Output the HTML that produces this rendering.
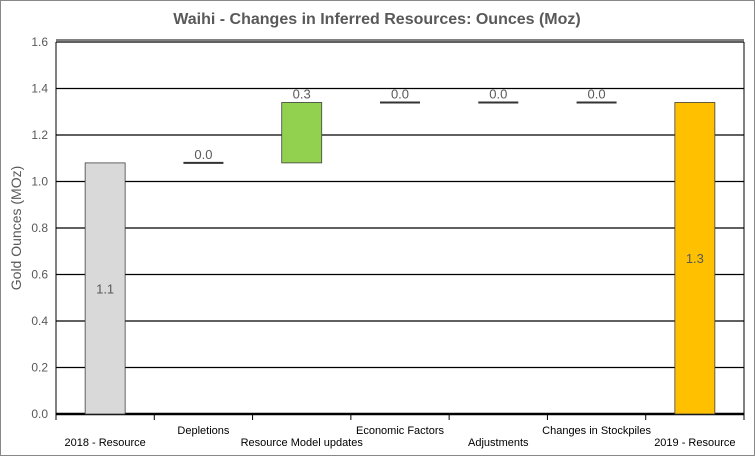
<!DOCTYPE html>
<html><head><meta charset="utf-8"><style>
body{margin:0;background:#fff}
svg{display:block;font-family:"Liberation Sans",Arial,sans-serif}
</style></head><body>
<svg id="c" width="755" height="456">
<rect x="0.5" y="0.5" width="754" height="455" fill="#fff" stroke="#888"/>
<text x="377" y="24" text-anchor="middle" font-size="16" font-weight="bold" fill="#595959">Waihi - Changes in Inferred Resources: Ounces (Moz)</text>
<text transform="translate(21,228) rotate(-90)" text-anchor="middle" font-size="14" fill="#595959">Gold Ounces (MOz)</text>
<g id="grid"></g><g id="bars"></g><g id="xl"></g>
</svg>
<script>
const categories=["2018 - Resource","Depletions","Resource Model updates","Economic Factors","Adjustments","Changes in Stockpiles","2019 - Resource"];
const deltas=[1.08,0.0,0.26,0.0,0.0,0.0,1.34];
const labels=["1.1","0.0","0.3","0.0","0.0","0.0","1.3"];
const kinds=["total","delta","delta","delta","delta","delta","total"];
const yTicks=[0,0.2,0.4,0.6,0.8,1.0,1.2,1.4,1.6];
const L=56,R=744,T=42,B=414,ymax=1.6;
const y=v=>B-(v/ymax)*(B-T);
const bw=(R-L)/categories.length;
const xc=i=>L+bw*(i+0.5);
const NS="http://www.w3.org/2000/svg";
function mk(tag,at,parent){const e=document.createElementNS(NS,tag);for(const k in at)e.setAttribute(k,at[k]);parent.appendChild(e);return e;}
const g=document.getElementById('grid'),gb=document.getElementById('bars'),gx=document.getElementById('xl');
yTicks.forEach(t=>{
 const ln=mk('line',{x1:L,x2:R,y1:y(t),y2:y(t),stroke:'#000','stroke-width':t===0?2.5:1.2},g);
 
 
 const tx=mk('text',{x:L-8,y:y(t)+4,'text-anchor':'end','font-size':12,fill:'#595959'},g);
 tx.textContent=t.toFixed(1);
 
 
});
mk('line',{x1:L,x2:L,y1:T,y2:B,stroke:'#000','stroke-width':1},g);
mk('line',{x1:R,x2:R,y1:T,y2:B,stroke:'#000','stroke-width':1},g);
mk('line',{x1:L,x2:R,y1:T-2,y2:T-2,stroke:'#000','stroke-width':1},g);
for(let i=0;i<=categories.length;i++){const tk=mk('line',{x1:L+bw*i,x2:L+bw*i,y1:B,y2:B+6,stroke:'#000'},g);
 
 }
let run=0;
categories.forEach((c,i)=>{
 const cx=xc(i),w=40;
 if(kinds[i]==='total'){
  run=deltas[i];
  const r=mk('rect',{x:cx-w/2,y:y(run),width:w,height:B-y(run),fill:i===0?'#d9d9d9':'#ffc000',stroke:'#404040','stroke-width':0.8},gb);
  
  
  const t=mk('text',{x:cx,y:(y(run)+B)/2+5,'text-anchor':'middle','font-size':13,fill:'#595959'},gb);
  t.textContent=labels[i];
  
  
 }else{
  const top=run+deltas[i];
  let topY;
  if(Math.abs(deltas[i])<0.005){
   const ln=mk('line',{x1:cx-w/2,x2:cx+w/2,y1:y(run),y2:y(run),stroke:'#333','stroke-width':2},gb);
   
   
   topY=y(run);
  }else{
   const r=mk('rect',{x:cx-w/2,y:y(Math.max(run,top)),width:w,height:Math.abs(y(run)-y(top)),fill:'#92d050',stroke:'#404040','stroke-width':0.8},gb);
   
   
   topY=y(Math.max(run,top));
  }
  const t=mk('text',{x:cx,y:topY-4,'text-anchor':'middle','font-size':13,fill:'#595959'},gb);
  t.textContent=labels[i];
  
  
  run=top;
 }
 const xt=mk('text',{x:cx,y:i%2?434:446,'text-anchor':'middle','font-size':11,fill:'#000'},gx);
 xt.textContent=c;
 
 
});
</script>
</body></html>
